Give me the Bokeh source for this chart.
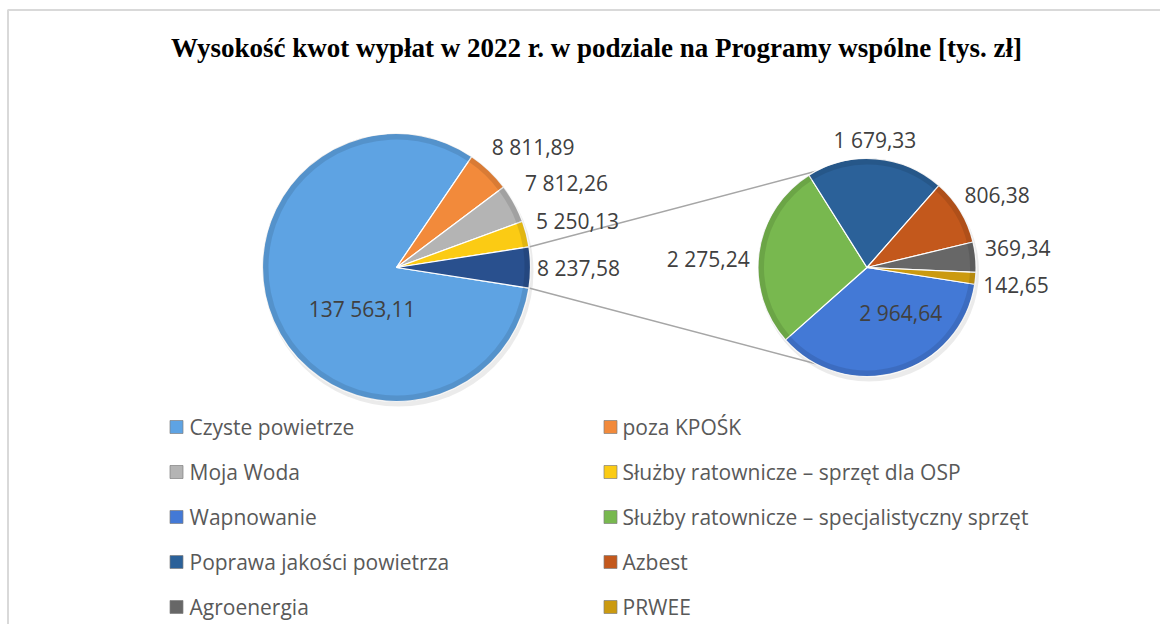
import math
from bokeh.plotting import figure
from bokeh.models import Range1d, ColumnDataSource
from bokeh.core.properties import value
from bokeh.embed import file_html
from bokeh.resources import INLINE

# ---------------- data ----------------
title_text = "Wysokość kwot wypłat w 2022 r. w podziale na Programy wspólne [tys. zł]"
main_names = ["Czyste powietrze", "poza KPOŚK", "Moja Woda",
              "Służby ratownicze – sprzęt dla OSP"]
main_values = [137563.11, 8811.89, 7812.26, 5250.13]
sec_names = ["Wapnowanie", "Służby ratownicze – specjalistyczny sprzęt",
             "Poprawa jakości powietrza", "Azbest", "Agroenergia", "PRWEE"]
sec_values = [2964.64, 2275.24, 1679.33, 806.38, 369.34, 142.65]
legend_order = ["Czyste powietrze", "poza KPOŚK", "Moja Woda",
                "Służby ratownicze – sprzęt dla OSP", "Wapnowanie",
                "Służby ratownicze – specjalistyczny sprzęt",
                "Poprawa jakości powietrza", "Azbest", "Agroenergia", "PRWEE"]

# ---------------- styles ----------------
colors = {
    "Czyste powietrze": "#5ea3e3",
    "poza KPOŚK": "#f28a3b",
    "Moja Woda": "#b4b4b4",
    "Służby ratownicze – sprzęt dla OSP": "#fbcb14",
    "Wapnowanie": "#4379d6",
    "Służby ratownicze – specjalistyczny sprzęt": "#78b84f",
    "Poprawa jakości powietrza": "#2b6199",
    "Azbest": "#c3581c",
    "Agroenergia": "#676767",
    "PRWEE": "#cb9a10",
}
other_color = "#29508e"
FONT = "Open Sans"

W, H = 1160, 624


def X(px):  # reference px -> data x
    return px


def Y(py):  # reference py -> data y
    return H - py


def fmt(v):
    return f"{v:,.2f}".replace(",", " ").replace(".", ",")


# layout
c1 = (X(396), Y(267)); r1 = 134
c2 = (X(866.5), Y(267)); r2 = 109
# label placement (distance from center, angular shift in degrees)
main_lab = [(54, 27), (182, -5), (190, -2), (187, 0), (182, 0)]
sec_lab = [(57, 20), (159, 5), (128, 1), (149, -2), (152, 2), (150, -1)]

p = figure(width=W, height=H, x_range=Range1d(0, W), y_range=Range1d(0, H),
           output_backend="svg", toolbar_location=None, min_border=0,
           x_axis_location=None, y_axis_location=None,
           outline_line_color=None, background_fill_color="white",
           border_fill_color="white")
p.grid.visible = False

# chart frame border
p.line([X(7.5), X(7.5), W + 5], [-5, Y(9.5), Y(9.5)], line_color="#d9d9d9", line_width=2)

# title
p.text(x=[X(596)], y=[Y(47)], text=[title_text],
       text_font=value("Liberation Serif"), text_font_style="bold",
       text_font_size="27px", text_color="#000000",
       text_align="center", text_baseline="middle")


def pie_angles(values, start):
    total = sum(values)
    out = []
    cum = 0.0
    for v in values:
        a_end = start - 2 * math.pi * cum / total
        cum += v
        a_start = start - 2 * math.pi * cum / total
        out.append((a_start, a_end))
    return out


other_value = sum(sec_values)
m_vals = main_values + [other_value]
m_cols = [colors[n] for n in main_names] + [other_color]
half = math.pi * other_value / sum(m_vals)
m_ang = pie_angles(m_vals, -half)
s_ang = pie_angles(sec_values, -half)

# soft shadows under the pies
p.circle(x=[c1[0] + 2, c2[0] + 2], y=[c1[1] - 4, c2[1] - 4], radius=[r1 + 1, r2 + 1],
         fill_color="#000000", fill_alpha=0.08, line_color=None)

# connector lines
ta = math.radians(118)
p.line([c1[0] + r1 * math.cos(half), c2[0] + r2 * math.cos(ta)],
       [c1[1] + r1 * math.sin(half), c2[1] + r2 * math.sin(ta)],
       line_color="#a6a6a6", line_width=1.5)
p.line([c1[0] + r1 * math.cos(-half), c2[0] + r2 * math.cos(-ta)],
       [c1[1] + r1 * math.sin(-half), c2[1] + r2 * math.sin(-ta)],
       line_color="#a6a6a6", line_width=1.5)


def draw_pie(center, r, angles, cols):
    src = ColumnDataSource(dict(start=[a[0] for a in angles], end=[a[1] for a in angles],
                                color=cols))
    p.wedge(x=center[0], y=center[1], radius=r, start_angle="start", end_angle="end",
            fill_color="color", line_color="white", line_width=1.2, source=src)
    # bevel-like darker rim
    p.annular_wedge(x=center[0], y=center[1], inner_radius=r - 6, outer_radius=r,
                    start_angle="start", end_angle="end", fill_color="#000000",
                    fill_alpha=0.10, line_color=None, source=src)


draw_pie(c1, r1, m_ang, m_cols)
draw_pie(c2, r2, s_ang, [colors[n] for n in sec_names])


def label_pts(angles, center, params):
    xs, ys = [], []
    for (a0, a1), (d, sh) in zip(angles, params):
        mid = (a0 + a1) / 2 + math.radians(sh)
        xs.append(center[0] + d * math.cos(mid))
        ys.append(center[1] + d * math.sin(mid))
    return xs, ys


lx, ly = label_pts(m_ang, c1, main_lab)
p.text(x=lx, y=ly, text=[fmt(v) for v in m_vals], text_font=value(FONT),
       text_font_size="21px", text_color="#404040",
       text_align="center", text_baseline="middle")
lx, ly = label_pts(s_ang, c2, sec_lab)
p.text(x=lx, y=ly, text=[fmt(v) for v in sec_values], text_font=value(FONT),
       text_font_size="21px", text_color="#404040",
       text_align="center", text_baseline="middle")

# legend (2 columns)
col_marker = [X(176), X(610)]
col_text = [X(189), X(622)]
row0, row_step = 426.5, 45
mx, my, mc, tx, ty = [], [], [], [], []
for i, name in enumerate(legend_order):
    col, row = i % 2, i // 2
    yy = Y(row0 + row * row_step)
    mx.append(col_marker[col]); my.append(yy); mc.append(colors[name])
    tx.append(col_text[col]); ty.append(yy)
p.scatter(x=mx, y=my, marker="square", size=13, fill_color=mc,
          line_color="#7f7f7f", line_width=0.7)
p.text(x=tx, y=ty, text=legend_order, text_font=value(FONT),
       text_font_size="21px", text_color="#595959",
       text_align="left", text_baseline="middle")

open("out.html", "w").write(file_html(p, INLINE))
